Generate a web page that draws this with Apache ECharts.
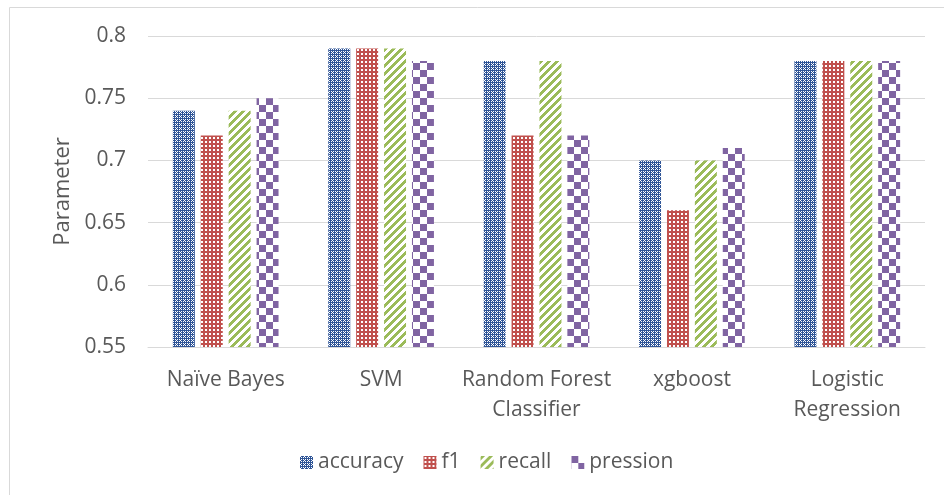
<!DOCTYPE html>
<html><head><meta charset="utf-8">
<script src="https://cdn.jsdelivr.net/npm/echarts@6/dist/echarts.min.js"></script>
<style>html,body{margin:0;padding:0;background:#fff}#c{width:944px;height:495px}</style>
</head><body><div id="c"></div>
<script>
const categories = ['Naïve Bayes', 'SVM', 'Random Forest\nClassifier', 'xgboost', 'Logistic\nRegression'];
const seriesNames = ['accuracy', 'f1', 'recall', 'pression'];
const accuracy = [0.74, 0.79, 0.78, 0.70, 0.78];
const f1 = [0.72, 0.79, 0.72, 0.66, 0.78];
const recall = [0.74, 0.79, 0.78, 0.70, 0.78];
const pression = [0.75, 0.78, 0.72, 0.71, 0.78];
const yTicks = [0.55, 0.6, 0.65, 0.7, 0.75, 0.8];

function mk(w, h, draw) {
  const c = document.createElement('canvas'); c.width = w; c.height = h;
  const g = c.getContext('2d'); draw(g); return c;
}
const patAcc = mk(4, 4, g => { g.fillStyle = '#2f5597'; g.fillRect(0,0,4,4); g.fillStyle = '#fff';
  g.fillRect(1,1,1,1); g.fillRect(3,3,1,1); g.fillRect(1,3,1,1); g.fillRect(3,1,1,1); g.fillRect(0,0,1,1); });
const patF1 = mk(4, 4, g => { g.fillStyle = '#c0504d'; g.fillRect(0,0,4,4); g.fillStyle = '#fff'; g.fillRect(1,1,2,2); });
const patRec = mk(8, 8, g => { g.fillStyle = '#fff'; g.fillRect(0,0,8,8); g.fillStyle = '#9bbb59';
  for (let y = 0; y < 8; y++) for (let x = 0; x < 8; x++) { if (((x + y) % 8) < 4) g.fillRect(x, y, 1, 1); } });
const patPre = mk(14, 14, g => { g.fillStyle = '#fff'; g.fillRect(0,0,14,14); g.fillStyle = '#8064a2'; g.fillRect(0,0,7,7); g.fillRect(7,7,7,7); });
const pats = [patAcc, patF1, patRec, patPre];
const datas = [accuracy, f1, recall, pression];

const chart = echarts.init(document.getElementById('c'), null, {renderer: 'canvas'});
const font = '"Open Sans", sans-serif';
chart.setOption({
  animation: false,
  graphic: [{type: 'rect', shape: {x: 9.5, y: 7.5, width: 1000, height: 1000}, style: {fill: 'none', stroke: '#d9d9d9', lineWidth: 1}, silent: true}],
  grid: {left: 148, right: 19, top: 36, bottom: 148, containLabel: false},
  legend: {
    data: seriesNames, left: 295, top: 447, itemWidth: 13, itemHeight: 13, itemGap: 20,
    textStyle: {color: '#595959', fontSize: 21, fontFamily: font}, icon: 'rect'
  },
  xAxis: {
    type: 'category', data: categories,
    axisLine: {lineStyle: {color: '#d9d9d9', width: 1}}, axisTick: {show: false},
    axisLabel: {color: '#595959', fontSize: 21, fontFamily: font, margin: 18, lineHeight: 30, interval: 0}
  },
  yAxis: {
    type: 'value', min: 0.55, max: 0.8, interval: 0.05,
    name: 'Parameter', nameLocation: 'middle', nameGap: 74,
    nameTextStyle: {color: '#595959', fontSize: 22, fontFamily: font},
    axisLine: {show: false}, axisTick: {show: false},
    axisLabel: {color: '#595959', fontSize: 21, fontFamily: font, margin: 22, formatter: v => String(parseFloat(v.toFixed(2)))},
    splitLine: {lineStyle: {color: '#d9d9d9', width: 1}}
  },
  series: seriesNames.map((n, i) => ({
    name: n, type: 'bar', data: datas[i], barGap: '27%', barCategoryGap: '32%',
    itemStyle: {color: {image: pats[i], repeat: 'repeat'}}
  }))
});
</script></body></html>
